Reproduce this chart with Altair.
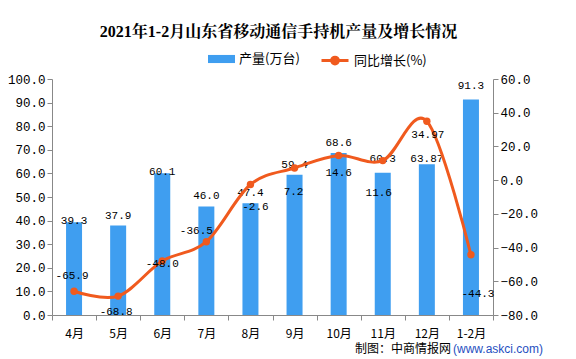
import altair as alt
import pandas as pd

months = ["4月", "5月", "6月", "7月", "8月", "9月", "10月", "11月", "12月", "1-2月"]
production = [39.3, 37.9, 60.1, 46.0, 47.4, 59.4, 68.6, 60.3, 63.87, 91.3]
prod_labels = ["39.3", "37.9", "60.1", "46.0", "47.4", "59.4", "68.6", "60.3", "63.87", "91.3"]
growth = [-65.9, -68.8, -48.0, -36.5, -2.6, 7.2, 14.6, 11.6, 34.97, -44.3]
growth_labels = ["-65.9", "-68.8", "-48.0", "-36.5", "-2.6", "7.2", "14.6", "11.6", "34.97", "-44.3"]
title_text = "2021年1-2月山东省移动通信手持机产量及增长情况"

df = pd.DataFrame({
    "month": months,
    "production": production,
    "plabel": prod_labels,
    "growth": growth,
    "glabel": growth_labels,
})

BAR = "#3f9ef0"
LINE = "#f05a1e"
MONO = "Liberation Mono, DejaVu Sans Mono, Noto Sans CJK SC"
CJK = "Noto Sans CJK SC"
LBL = 11

x = alt.X("month:N", sort=months, title=None,
          scale=alt.Scale(paddingInner=0, paddingOuter=0),
          axis=alt.Axis(labelAngle=0, tickBand="extent", domainColor="#888888",
                        tickColor="#888888", tickSize=5, labelFont=CJK,
                        labelFontSize=12, labelColor="#000000", labelPadding=8))

base = alt.Chart(df)

yl_scale = alt.Scale(domain=[0, 100], nice=False)
yr_scale = alt.Scale(domain=[-80, 60], nice=False)

yl_axis = alt.Axis(values=list(range(0, 101, 10)), format=".1f", grid=False,
                   labelOverlap=False, tickCount=11,
                   domainColor="#888888", tickColor="#888888", tickSize=5,
                   labelFont=MONO, labelFontSize=12.5, labelColor="#000000")
yr_axis = alt.Axis(orient="right", values=list(range(-80, 61, 20)), format=".1f", grid=False,
                   labelOverlap=False, tickCount=8,
                   domainColor="#888888", tickColor="#888888", tickSize=5,
                   labelFont=MONO, labelFontSize=12.5, labelColor="#000000")


def yl():
    return alt.Y("production:Q", scale=yl_scale, title=None, axis=yl_axis)


def yr():
    return alt.Y("growth:Q", scale=yr_scale, title=None, axis=yr_axis)


bars = base.transform_calculate(s1="'产量(万台)'").mark_bar(size=16).encode(
    x=x,
    y=yl(),
    color=alt.Color("s1:N", scale=alt.Scale(domain=["产量(万台)"], range=[BAR]),
                    legend=alt.Legend(orient="none", legendX=156, legendY=-33.5, title=None,
                                      symbolType="M-1,-0.3H1V0.3H-1Z", symbolSize=729,
                                      symbolStrokeWidth=0, labelFont=CJK, labelFontSize=13,
                                      labelColor="#000000", padding=0, labelOffset=4)),
)


def btext(names, dy):
    return base.transform_filter(
        alt.FieldOneOfPredicate(field="month", oneOf=names)
    ).mark_text(dy=dy, font=MONO, fontSize=LBL, color="#000000").encode(
        x=alt.X("month:N", sort=months), y=yl(), text="plabel:N")


left = alt.layer(
    bars,
    btext(["5月", "7月", "8月", "9月", "10月"], -10),
    btext(["11月", "1-2月"], -14),
    btext(["4月", "6月"], -1),
    btext(["12月"], -5),
)

line = base.transform_calculate(s2="'同比增长(%)'").mark_line(
    interpolate="cardinal", strokeWidth=3).encode(
    x=alt.X("month:N", sort=months),
    y=yr(),
    stroke=alt.Stroke("s2:N", scale=alt.Scale(domain=["同比增长(%)"], range=[LINE]),
                      legend=alt.Legend(orient="none", legendX=268, legendY=-33.5, title=None,
                                        symbolType="M-1,0H1M0.25,0A0.25,0.25 0 1,1 -0.25,0A0.25,0.25 0 1,1 0.25,0",
                                        symbolSize=729, symbolStrokeWidth=3,
                                        symbolFillColor=LINE, labelFont=CJK, labelFontSize=13,
                                        labelColor="#000000", padding=0, labelOffset=4)),
)
points = base.mark_circle(size=55, color=LINE, opacity=1).encode(
    x=alt.X("month:N", sort=months), y=yr())


def gtext(names, dx, dy):
    return base.transform_filter(
        alt.FieldOneOfPredicate(field="month", oneOf=names)
    ).mark_text(dx=dx, dy=dy, font=MONO, fontSize=LBL, color="#000000").encode(
        x=alt.X("month:N", sort=months), y=yr(), text="glabel:N")


right = alt.layer(
    line, points,
    gtext(["4月"], -2, -15),
    gtext(["5月"], -2, 16),
    gtext(["6月"], 0, 3),
    gtext(["7月"], -10, -11),
    gtext(["8月"], 5, 22),
    gtext(["9月"], -1, 24),
    gtext(["10月"], 0, 17),
    gtext(["11月"], -4, 32),
    gtext(["12月"], 1, 14),
    gtext(["1-2月"], 7, 39),
)

ttl = alt.Chart(pd.DataFrame({"t": [title_text]})).mark_text(
    align="center", baseline="alphabetic",
    font="Liberation Serif, Noto Serif CJK SC, Noto Sans CJK SC",
    fontSize=16, fontWeight="bold", color="#000000").encode(
    text="t:N", x=alt.value(226.5), y=alt.value(-42))

src1 = alt.Chart(pd.DataFrame({"t": ["制图：中商情报网"]})).mark_text(
    align="left", baseline="middle", font=CJK, fontSize=12, color="#000000").encode(
    text="t:N", x=alt.value(303), y=alt.value(270))
src2 = alt.Chart(pd.DataFrame({"t": ["(www.askci.com)"]})).mark_text(
    align="left", baseline="middle", font="Liberation Sans, Noto Sans", fontSize=12,
    color="#1f4fbf").encode(text="t:N", x=alt.value(401), y=alt.value(270))

chart = alt.layer(left, right, ttl, src1, src2).resolve_scale(
    y="independent", color="independent", stroke="independent"
).properties(
    width=441, height=236,
    padding={"left": 44, "top": 71, "right": 75, "bottom": 43},
    autosize=alt.AutoSizeParams(type="none"),
).configure_view(stroke=None)

chart.save("out.html", embed_options={"renderer": "svg", "actions": False})
